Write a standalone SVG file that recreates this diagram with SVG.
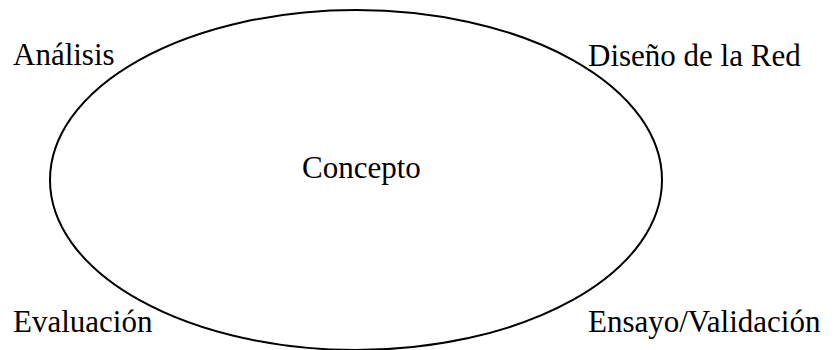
<svg xmlns="http://www.w3.org/2000/svg" width="836" height="350" viewBox="0 0 836 350">
<style>
text{font-family:"Liberation Serif","Times New Roman",serif;font-size:31px;fill:#000}
.shape{fill:none;stroke:#000;stroke-width:2}
</style>
<rect width="836" height="350" fill="#fff"/>
<g id="cycle">
<ellipse class="shape" cx="356" cy="180" rx="306" ry="170"/>
</g>
<g id="concepto"><text x="302" y="178">Concepto</text></g>
<g id="analisis"><text x="13" y="65">Análisis</text></g>
<g id="diseno"><text x="588" y="66">Diseño de la Red</text></g>
<g id="evaluacion"><text x="13" y="332">Evaluación</text></g>
<g id="ensayo"><text x="588" y="332">Ensayo/Validación</text></g>
<g id="connectors"></g>
</svg>
